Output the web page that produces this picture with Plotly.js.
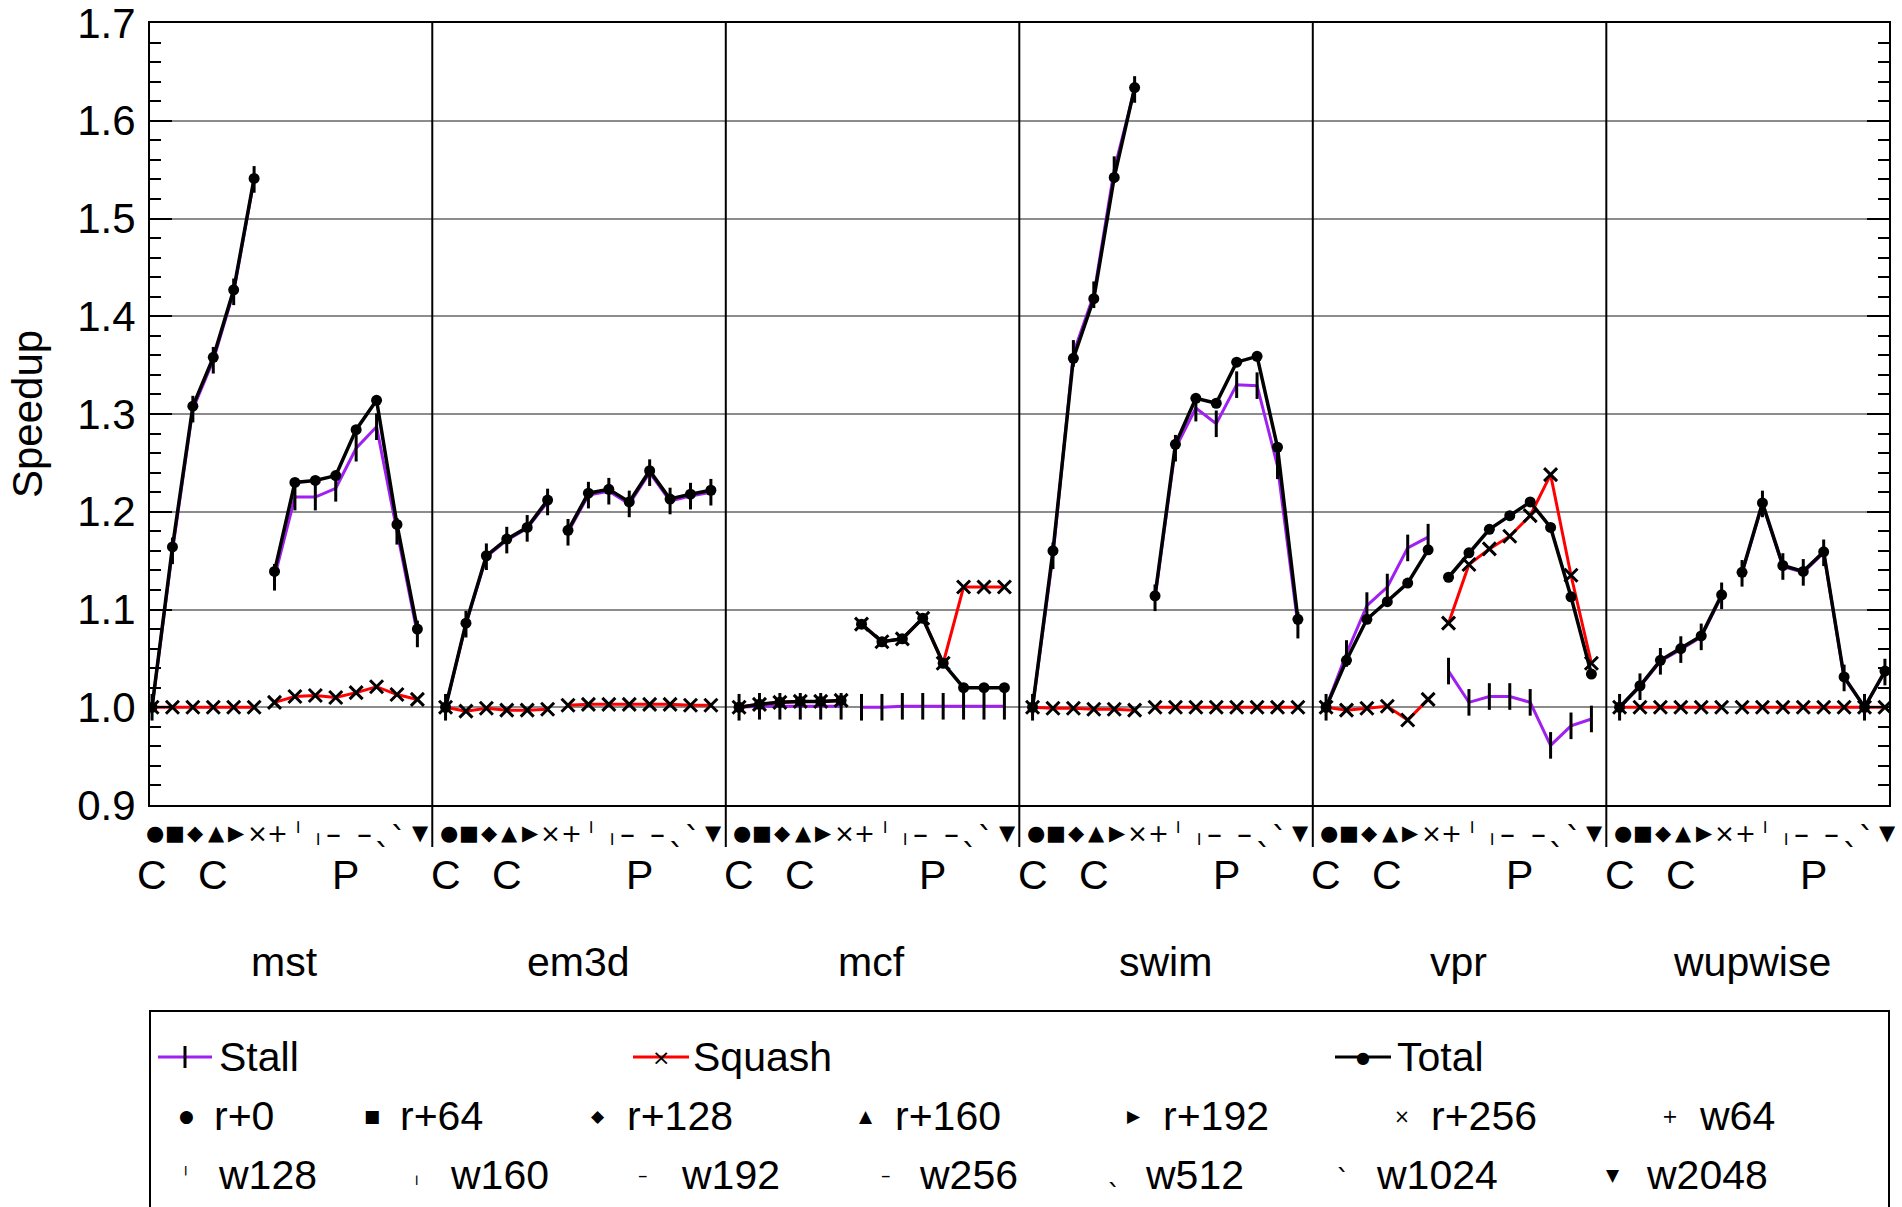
<!DOCTYPE html>
<html><head><meta charset="utf-8">
<script src="https://cdn.plot.ly/plotly-3.0.1.min.js"></script>
<style>html,body{margin:0;padding:0;background:#fff;}</style>
</head><body>
<div id="chart" style="width:1902px;height:1207px"></div>
<script>
// ---- data ----
const benchmarks = ['mst', 'em3d', 'mcf', 'swim', 'vpr', 'wupwise'];
const configs = ['r+0', 'r+64', 'r+128', 'r+160', 'r+192', 'r+256', 'w64', 'w128', 'w160', 'w192', 'w256', 'w512', 'w1024', 'w2048'];
const configGlyphs = ['●', '■', '◆', '▲', '▶', '×', '+', '╵', '╷', '–', '–', 'ˎ', 'ˋ', '▼'];
const groupLabels = ['C', 'C', 'P'];
const groupLabelAt = [0, 3, 9.5];
const yTickVals = [0.9, 1.0, 1.1, 1.2, 1.3, 1.4, 1.5, 1.6, 1.7];

const stall_mst    = [1.000, 1.160, 1.305, 1.355, 1.425, 1.540, 1.133, 1.215, 1.215, 1.224, 1.265, 1.287, 1.180, 1.075];
const squash_mst   = [1.000, 1.000, 1.000, 1.000, 1.000, 1.000, 1.005, 1.011, 1.012, 1.010, 1.015, 1.021, 1.013, 1.008];
const total_mst    = [1.000, 1.164, 1.308, 1.358, 1.427, 1.541, 1.139, 1.230, 1.232, 1.237, 1.284, 1.314, 1.187, 1.080];

const stall_em3d   = [1.000, 1.085, 1.154, 1.171, 1.183, 1.210, 1.179, 1.217, 1.221, 1.208, 1.240, 1.211, 1.216, 1.220];
const squash_em3d  = [1.000, 0.996, 0.999, 0.997, 0.997, 0.998, 1.002, 1.003, 1.003, 1.003, 1.003, 1.003, 1.002, 1.002];
const total_em3d   = [1.000, 1.086, 1.155, 1.172, 1.184, 1.212, 1.181, 1.219, 1.223, 1.210, 1.242, 1.213, 1.218, 1.222];

const stall_mcf    = [1.000, 1.001, 1.001, 1.001, 1.001, 1.001, 1.000, 1.000, 1.001, 1.001, 1.001, 1.001, 1.001, 1.001];
const squash_mcf   = [1.000, 1.003, 1.005, 1.006, 1.006, 1.007, 1.085, 1.067, 1.070, 1.091, 1.045, 1.123, 1.123, 1.123];
const total_mcf    = [1.000, 1.003, 1.005, 1.006, 1.006, 1.007, 1.085, 1.067, 1.070, 1.091, 1.045, 1.020, 1.020, 1.020];

const stall_swim   = [1.000, 1.155, 1.362, 1.422, 1.550, 1.632, 1.112, 1.265, 1.306, 1.290, 1.330, 1.329, 1.247, 1.084];
const squash_swim  = [1.000, 0.999, 0.999, 0.998, 0.998, 0.997, 1.000, 1.000, 1.000, 1.000, 1.000, 1.000, 1.000, 1.000];
const total_swim   = [1.000, 1.160, 1.357, 1.418, 1.542, 1.634, 1.114, 1.269, 1.316, 1.311, 1.353, 1.359, 1.266, 1.090];

const stall_vpr    = [1.000, 1.055, 1.104, 1.123, 1.163, 1.174, 1.037, 1.005, 1.011, 1.011, 1.005, 0.961, 0.981, 0.988];
const squash_vpr   = [1.000, 0.997, 0.999, 1.001, 0.987, 1.008, 1.086, 1.146, 1.162, 1.175, 1.196, 1.238, 1.135, 1.045];
const total_vpr    = [1.000, 1.048, 1.090, 1.108, 1.127, 1.161, 1.133, 1.158, 1.182, 1.196, 1.210, 1.184, 1.113, 1.034];

const stall_wupwise  = [1.000, 1.021, 1.047, 1.059, 1.072, 1.114, 1.137, 1.208, 1.144, 1.138, 1.158, 1.030, 1.000, 1.036];
const squash_wupwise = [1.000, 1.000, 1.000, 1.000, 1.000, 1.000, 1.000, 1.000, 1.000, 1.000, 1.000, 1.000, 1.000, 1.000];
const total_wupwise  = [1.000, 1.022, 1.048, 1.060, 1.073, 1.115, 1.138, 1.209, 1.145, 1.139, 1.159, 1.031, 1.000, 1.037];

const stallSeries  = [stall_mst, stall_em3d, stall_mcf, stall_swim, stall_vpr, stall_wupwise];
const squashSeries = [squash_mst, squash_em3d, squash_mcf, squash_swim, squash_vpr, squash_wupwise];
const totalSeries  = [total_mst, total_em3d, total_mcf, total_swim, total_vpr, total_wupwise];

// ---- styling / geometry ----
const W = 1902, H = 1207;
const ML = 150, MR = 13, MT = 23, MB = 402;
const plotW = W - ML - MR, plotH = H - MT - MB;
const PANEL = 14.38;      // x units per benchmark panel
const SPLIT = 6;          // r+ configs | w configs
const FONT = 'Liberation Sans, Arial, Helvetica, sans-serif';
const GLYPHFONT = 'DejaVu Sans, sans-serif';
const glyphAxisSize   = [21, 21, 21, 21, 21, 25, 25, 20, 20, 30, 30, 34, 34, 21];
const glyphLegendSize = [17, 17, 17, 17, 17, 19, 19, 16, 16, 19, 19, 28, 28, 17];
const glyphAxisShift  = [0, 0, 0, 0, 0, 0, 0, 0, 0, 0, 0, 6, -6, 0];
const glyphAxisXShift = [3, 3, 3, 3, 3, 3, 3, 3, 3, -2, 8, 6, 2, 3];
const glyphLegendShift= [0, 0, 0, 0, 0, 0, 0, 0, 0, 0, 0, 5, -5, 0];
const px2x = p => (p - ML) / plotW;
const px2y = p => (H - MB - p) / plotH;

function xOf(b, k) { return b * PANEL + k; }

function buildXY(series) {
  const xs = [], ys = [];
  series.forEach((vals, b) => {
    vals.forEach((v, k) => {
      if (k === SPLIT) { xs.push(null); ys.push(null); }
      xs.push(xOf(b, k)); ys.push(v);
    });
    xs.push(null); ys.push(null);
  });
  return {xs, ys};
}

const st = buildXY(stallSeries), sq = buildXY(squashSeries), tt = buildXY(totalSeries);

const traces = [
  {x: st.xs, y: st.ys, name: 'Stall', type: 'scatter', mode: 'lines+markers', connectgaps: false,
   line: {color: '#a020f0', width: 3},
   marker: {symbol: 'line-ns', size: 19, color: '#000', line: {color: '#000', width: 3}}},
  {x: sq.xs, y: sq.ys, name: 'Squash', type: 'scatter', mode: 'lines+markers', connectgaps: false,
   line: {color: '#ff0000', width: 3},
   marker: {symbol: 'x-thin', size: 13, color: '#000', line: {color: '#000', width: 3}}},
  {x: tt.xs, y: tt.ys, name: 'Total', type: 'scatter', mode: 'lines+markers', connectgaps: false,
   line: {color: '#000', width: 3.5},
   marker: {symbol: 'circle', size: 11, color: '#000'}}
];

const shapes = [];
const annotations = [];

for (let b = 1; b < benchmarks.length; b++) {
  shapes.push({type: 'line', xref: 'x', yref: 'paper', x0: b * PANEL - 0.65, x1: b * PANEL - 0.65,
    y0: px2y(847), y1: 1, line: {color: '#000', width: 2}, layer: 'above'});
}

benchmarks.forEach((name, b) => {
  configGlyphs.forEach((g, k) => {
    annotations.push({xref: 'x', yref: 'paper', x: xOf(b, k), y: px2y(833), text: g, showarrow: false,
      xanchor: 'center', yanchor: 'middle', xshift: glyphAxisXShift[k], yshift: glyphAxisShift[k],
      font: {family: GLYPHFONT, size: glyphAxisSize[k], color: '#000'}});
  });
  groupLabels.forEach((t, i) => {
    annotations.push({xref: 'x', yref: 'paper', x: xOf(b, groupLabelAt[i]), y: px2y(875), text: t, showarrow: false,
      xanchor: 'center', yanchor: 'middle', font: {family: FONT, size: 41, color: '#000'}});
  });
  annotations.push({xref: 'x', yref: 'paper', x: xOf(b, (configs.length - 1) / 2), y: px2y(962), text: name,
    showarrow: false, xanchor: 'center', yanchor: 'middle', font: {family: FONT, size: 41, color: '#000'}});
});

// ---- custom legend ----
shapes.push({type: 'rect', xref: 'paper', yref: 'paper', x0: 0, x1: 1, y0: px2y(1300), y1: px2y(1011),
  line: {color: '#000', width: 2}, fillcolor: 'rgba(0,0,0,0)'});
const row1 = px2y(1057), row2 = px2y(1116), row3 = px2y(1175);
const seriesKeys = [
  {name: 'Stall', color: '#a020f0', x0: 158, x1: 212, text: 217, mark: 'bar'},
  {name: 'Squash', color: '#ff0000', x0: 633, x1: 689, text: 691, mark: '×'},
  {name: 'Total', color: '#000000', x0: 1335, x1: 1391, text: 1395, mark: '●'}
];
seriesKeys.forEach(s => {
  shapes.push({type: 'line', xref: 'paper', yref: 'paper', x0: px2x(s.x0), x1: px2x(s.x1), y0: row1, y1: row1,
    line: {color: s.color, width: 3}});
  const mx = (s.x0 + s.x1) / 2;
  if (s.mark === 'bar') {
    shapes.push({type: 'line', xref: 'paper', yref: 'paper', x0: px2x(mx), x1: px2x(mx),
      y0: px2y(1046), y1: px2y(1068), line: {color: '#000', width: 3}});
  } else {
    annotations.push({xref: 'paper', yref: 'paper', x: px2x(mx), y: row1, text: s.mark, showarrow: false,
      xanchor: 'center', yanchor: 'middle', font: {family: GLYPHFONT, size: s.mark === '●' ? 16 : 22, color: '#000'}});
  }
  annotations.push({xref: 'paper', yref: 'paper', x: px2x(s.text), y: row1, text: s.name, showarrow: false,
    xanchor: 'left', yanchor: 'middle', font: {family: FONT, size: 41, color: '#000'}});
});
const keyMarkX = [186, 372, 598, 866, 1134, 1402, 1670, 186, 417, 643, 886, 1114, 1343, 1613];
const keyTextX = [212, 398, 625, 893, 1161, 1429, 1697, 216, 448, 679, 917, 1143, 1374, 1644];
configs.forEach((c, k) => {
  const ry = k < 7 ? row2 : row3;
  annotations.push({xref: 'paper', yref: 'paper', x: px2x(keyMarkX[k]), y: ry, text: configGlyphs[k], showarrow: false,
    xanchor: 'center', yanchor: 'middle', yshift: glyphLegendShift[k],
    font: {family: GLYPHFONT, size: glyphLegendSize[k], color: '#000'}});
  annotations.push({xref: 'paper', yref: 'paper', x: px2x(keyTextX[k]), y: ry, text: c, showarrow: false,
    xanchor: 'left', yanchor: 'middle', font: {family: FONT, size: 41, color: '#000'}});
});

const layout = {
  width: W, height: H,
  margin: {l: ML, r: MR, t: MT, b: MB, pad: 0},
  paper_bgcolor: '#fff', plot_bgcolor: '#fff',
  showlegend: false,
  font: {family: FONT, color: '#000'},
  xaxis: {range: [-0.1, 85.1], showgrid: false, zeroline: false, showline: true, mirror: true,
    linecolor: '#000', linewidth: 2, ticks: '', showticklabels: false, fixedrange: true},
  yaxis: {range: [0.9, 1.7], tickvals: yTickVals, ticktext: yTickVals.map(v => v.toFixed(1)),
    showgrid: true, gridcolor: '#8c8c8c', gridwidth: 2, zeroline: false,
    showline: true, mirror: 'ticks', linecolor: '#000', linewidth: 2,
    ticks: 'inside', ticklen: 22, tickwidth: 2, tickcolor: '#000',
    minor: {ticks: 'inside', ticklen: 11, tickwidth: 2, tickcolor: '#000', dtick: 0.02, tick0: 0.9, showgrid: false},
    tickfont: {family: FONT, size: 42, color: '#000'}, ticklabelstandoff: 4, ticklabeloverflow: 'allow',
    title: {text: 'Speedup', font: {family: FONT, size: 42, color: '#000'}, standoff: 22},
    fixedrange: true},
  shapes: shapes,
  annotations: annotations
};

Plotly.newPlot('chart', traces, layout, {displayModeBar: false, staticPlot: true});
</script>
</body></html>
